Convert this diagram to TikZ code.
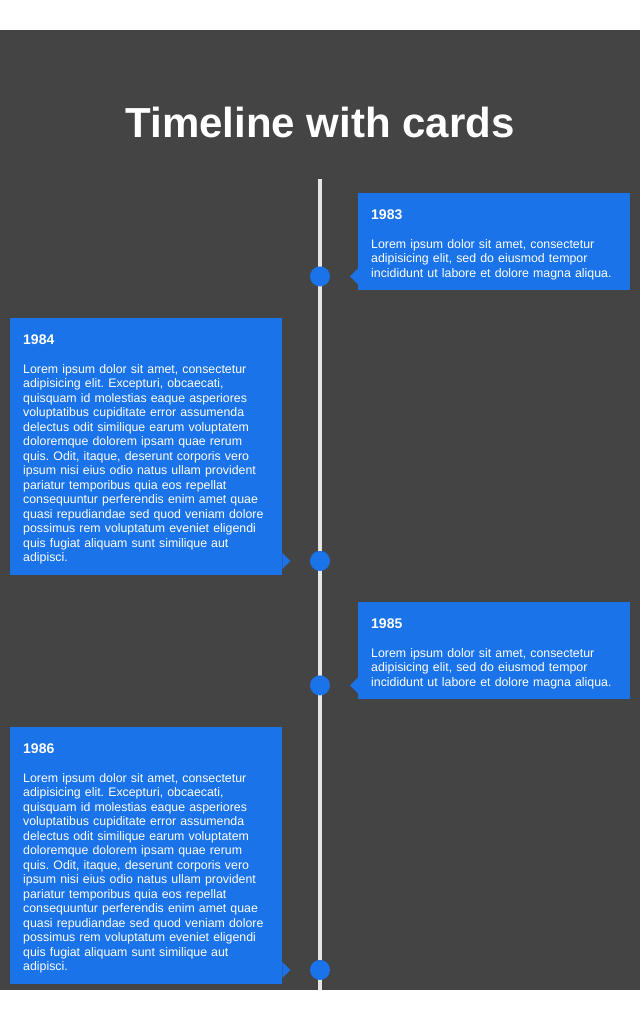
\documentclass[tikz,border=0pt]{standalone}
\usepackage{fontspec}
\setmainfont{Liberation Sans}
\usetikzlibrary{positioning}
\frenchspacing

\definecolor{pagedark}{HTML}{444444}
\definecolor{cardblue}{HTML}{1A73E8}
\definecolor{spinegray}{HTML}{E6E6E6}

\tikzset{
    card/.style={fill=cardblue, text=white, inner xsep=13pt, inner ysep=10pt,
        text width=246pt, align=left, anchor=north west,
        font=\fontsize{12.35}{14.5}\selectfont},
    dot/.style={circle, fill=cardblue, minimum size=20pt, inner sep=0pt},
    spine/.style={spinegray, line width=3.5pt},
    notch/.style={fill=cardblue},
    headline/.style={text=white, anchor=base, font=\fontsize{42}{50}\selectfont\bfseries}
}

\newcommand{\cardyear}[1]{{\fontsize{14}{17}\selectfont\bfseries\rule{0pt}{16pt}#1\par}\vspace{14.5pt}}
\newcommand{\loremshort}{%
    Lorem ipsum dolor sit amet, consectetur\\
    adipisicing elit, sed do eiusmod tempor\\
    incididunt ut labore et dolore magna aliqua.\rule[-3pt]{0pt}{3pt}}
\newcommand{\loremlong}{%
    Lorem ipsum dolor sit amet, consectetur\\
    adipisicing elit. Excepturi, obcaecati,\\
    quisquam id molestias eaque asperiores\\
    voluptatibus cupiditate error assumenda\\
    delectus odit similique earum voluptatem\\
    doloremque dolorem ipsam quae rerum\\
    quis. Odit, itaque, deserunt corporis vero\\
    ipsum nisi eius odio natus ullam provident\\
    pariatur temporibus quia eos repellat\\
    consequuntur perferendis enim amet quae\\
    quasi repudiandae sed quod veniam dolore\\
    possimus rem voluptatum eveniet eligendi\\
    quis fugiat aliquam sunt similique aut\\
    adipisci.\rule[-3pt]{0pt}{3pt}}

\begin{document}
\begin{tikzpicture}[x=1pt, y=-1pt]
        \useasboundingbox (0,0) rectangle (640,1022);
        \fill[white] (0,0) rectangle (640,1022);
        \fill[pagedark] (0,30) rectangle (640,990);
        \node[headline] (head) at (320,137) {Timeline with cards};
        % the spine
        \coordinate (top) at (320,179);
        \coordinate (bot) at (320,990);
        \draw[spine] (top) -- (bot);
        % cards
        \node[card] (c1) at (358,193) {\cardyear{1983}\loremshort};
        \node[card] (c2) at (10,318) {\cardyear{1984}\loremlong};
        \node[card] (c3) at (358,602) {\cardyear{1985}\loremshort};
        \node[card] (c4) at (10,727) {\cardyear{1986}\loremlong};
        % notches and dots
        \coordinate (p1) at ([yshift=14pt]c1.south west);
        \coordinate (p2) at ([yshift=14pt]c2.south east);
        \coordinate (p3) at ([yshift=14pt]c3.south west);
        \coordinate (p4) at ([yshift=14pt]c4.south east);
        \fill[notch] ([yshift=8pt]p1) -- ([xshift=-8pt]p1) -- ([yshift=-8pt]p1) -- cycle;
        \fill[notch] ([yshift=8pt]p2) -- ([xshift=8pt]p2) -- ([yshift=-8pt]p2) -- cycle;
        \fill[notch] ([yshift=8pt]p3) -- ([xshift=-8pt]p3) -- ([yshift=-8pt]p3) -- cycle;
        \fill[notch] ([yshift=8pt]p4) -- ([xshift=8pt]p4) -- ([yshift=-8pt]p4) -- cycle;
        \node[dot] (d1) at (p1 -| top) {};
        \node[dot] (d2) at (p2 -| top) {};
        \node[dot] (d3) at (p3 -| top) {};
        \node[dot] (d4) at (p4 -| top) {};
    \end{tikzpicture}
\end{document}
